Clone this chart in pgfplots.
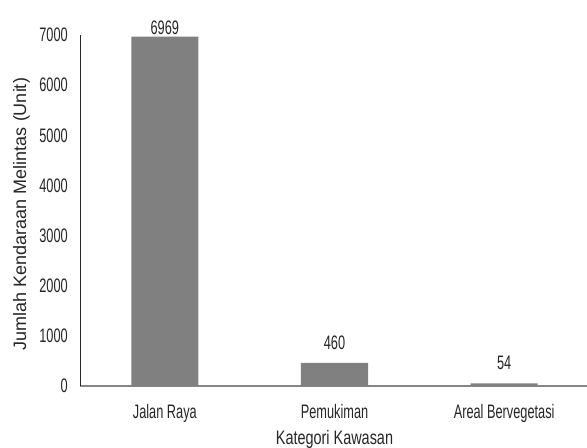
\documentclass[border=0pt]{standalone}
\usepackage{pgfplots}
\pgfplotsset{compat=1.18}
\usepackage{fontspec}
\setmainfont{Liberation Sans}
\newfontfamily\narrow[FakeStretch=0.655]{Liberation Sans}
\newfontfamily\narrowb[FakeStretch=0.74]{Liberation Sans}
\definecolor{barc}{HTML}{808080}
\definecolor{xax}{HTML}{868686}
\begin{document}
\begin{tikzpicture}
\useasboundingbox (0,0) rectangle (587bp,448bp);
\begin{axis}[
  at={(80bp,62bp)}, anchor=south west,
  width=509bp, height=351bp, scale only axis,
  xmin=-0.5, xmax=2.5, ymin=0, ymax=7000,
  clip=false,
  axis x line*=bottom, axis y line*=left,
  x axis line style={xax, line width=1.2bp},
  y axis line style={black!85, line width=1bp},
  xtick={0,1,2},
  xticklabels={Jalan Raya, Pemukiman, Areal Bervegetasi},
  ytick={0,1000,...,7000},
  major tick length=0pt,
  tick label style={font=\fontsize{19.5bp}{22bp}\narrow, text=black!85},
  /pgf/number format/assume math mode=true,
  /pgf/number format/1000 sep={},
  xticklabel style={anchor=base, yshift=-32bp},
  yticklabel style={anchor=east, inner sep=0pt, xshift=-12bp},
  xlabel={Kategori Kawasan},
  xlabel style={at={(axis description cs:0.5,-0.166)}, anchor=base, inner sep=0pt, font=\fontsize{19.5bp}{22bp}\narrowb, text=black!85},
  ylabel={Jumlah Kendaraan Melintas (Unit)},
  ylabel style={at={(axis description cs:-0.106,0.49)}, anchor=base, inner sep=0pt, font=\fontsize{18bp}{20bp}\selectfont, text=black!85},
]
\addplot[ybar, bar width=0.395, fill=barc, draw=none,
  visualization depends on={y \as \rawy},
  nodes near coords,
  nodes near coords style={font=\fontsize{19.5bp}{22bp}\narrow, text=black!85, anchor=base, inner sep=0pt, yshift={\rawy>6000 ? 2.5 : 13.5}}]
  coordinates {(0,6969) (1,460) (2,54)};
\end{axis}
\end{tikzpicture}
\end{document}
